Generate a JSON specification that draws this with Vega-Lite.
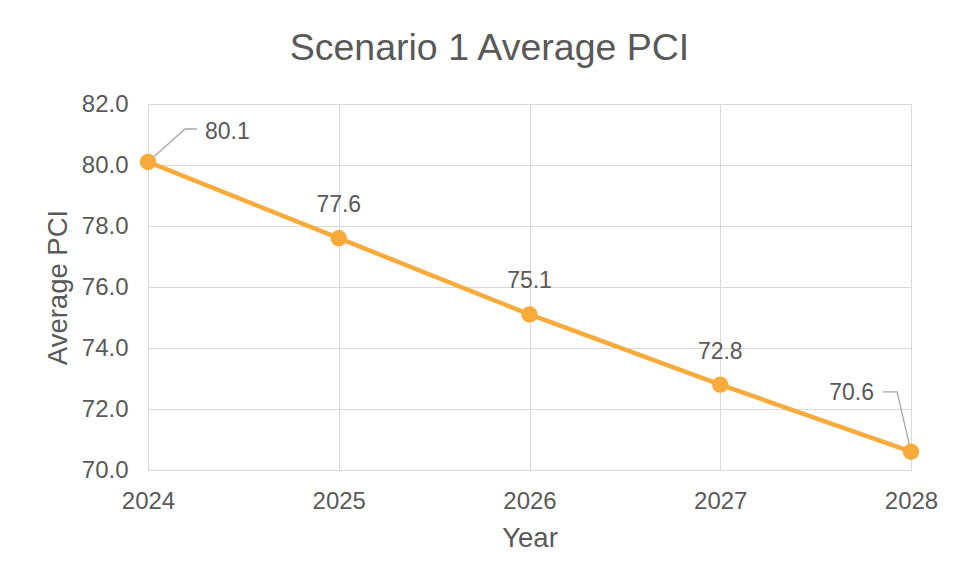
{
  "$schema": "https://vega.github.io/schema/vega-lite/v6.json",
  "autosize": "none",
  "width": 763,
  "height": 366,
  "padding": {"left": 148, "top": 104, "right": 47, "bottom": 110},
  "background": "white",
  "config": {
    "view": {"stroke": null},
    "font": "Liberation Sans",
    "axis": {"labelFont": "Liberation Sans", "titleFont": "Liberation Sans", "labelColor": "#595959", "titleColor": "#595959", "gridColor": "#d9d9d9", "gridWidth": 1, "labelFontSize": 24, "titleFontSize": 27.5, "titleFontWeight": "normal", "ticks": false}
  },
  "title": {"text": "Scenario 1 Average PCI", "font": "Liberation Sans", "fontSize": 37.5, "fontWeight": "normal", "color": "#595959", "anchor": "middle", "dx": -40, "offset": -5, "baseline": "alphabetic"},
  "datasets": {
    "pci": [
      {"year": 2024, "pci": 80.1},
      {"year": 2025, "pci": 77.6},
      {"year": 2026, "pci": 75.1},
      {"year": 2027, "pci": 72.8},
      {"year": 2028, "pci": 70.6}
    ],
    "leaders": [
      {"g": "a", "o": 1, "year": 2024.0, "pci": 80.1},
      {"g": "a", "o": 2, "year": 2024.194, "pci": 81.18},
      {"g": "a", "o": 3, "year": 2024.257, "pci": 81.18},
      {"g": "b", "o": 1, "year": 2028.0, "pci": 70.6},
      {"g": "b", "o": 2, "year": 2027.927, "pci": 72.56},
      {"g": "b", "o": 3, "year": 2027.853, "pci": 72.56}
    ]
  },
  "encoding": {
    "x": {"field": "year", "type": "quantitative", "scale": {"domain": [2024, 2028], "nice": false, "zero": false},
      "axis": {"values": [2024, 2025, 2026, 2027, 2028], "format": "d", "title": "Year", "labelPadding": 19, "titlePadding": 11, "domainColor": "#d9d9d9", "domainWidth": 1, "labelFlush": false}},
    "y": {"field": "pci", "type": "quantitative", "scale": {"domain": [70, 82], "nice": false, "zero": false},
      "axis": {"values": [70, 72, 74, 76, 78, 80, 82], "format": ".1f", "title": "Average PCI", "domain": false, "labelPadding": 20, "titlePadding": 9}}
  },
  "layer": [
    {
      "data": {"name": "leaders"},
      "mark": {"type": "line", "color": "#a6a6a6", "strokeWidth": 1.3},
      "encoding": {"detail": {"field": "g"}, "order": {"field": "o"}}
    },
    {
      "data": {"name": "pci"},
      "mark": {"type": "line", "color": "#F8AA3A", "strokeWidth": 4.5},
      "encoding": {}
    },
    {
      "data": {"name": "pci"},
      "mark": {"type": "circle", "color": "#F8AA3A", "opacity": 1, "size": 270},
      "encoding": {}
    },
    {
      "data": {"name": "pci"},
      "transform": [{"filter": "datum.year > 2024 && datum.year < 2028"}],
      "mark": {"type": "text", "font": "Liberation Sans", "fontSize": 23, "color": "#595959", "dy": -33, "baseline": "middle", "align": "center"},
      "encoding": {"text": {"field": "pci", "type": "quantitative", "format": ".1f"}}
    },
    {
      "data": {"name": "pci"},
      "transform": [{"filter": "datum.year == 2024"}],
      "mark": {"type": "text", "font": "Liberation Sans", "fontSize": 23, "color": "#595959", "dx": 57, "dy": -30, "baseline": "middle", "align": "left"},
      "encoding": {"text": {"field": "pci", "type": "quantitative", "format": ".1f"}}
    },
    {
      "data": {"name": "pci"},
      "transform": [{"filter": "datum.year == 2028"}],
      "mark": {"type": "text", "font": "Liberation Sans", "fontSize": 23, "color": "#595959", "dx": -37, "dy": -59, "baseline": "middle", "align": "right"},
      "encoding": {"text": {"field": "pci", "type": "quantitative", "format": ".1f"}}
    }
  ]
}
